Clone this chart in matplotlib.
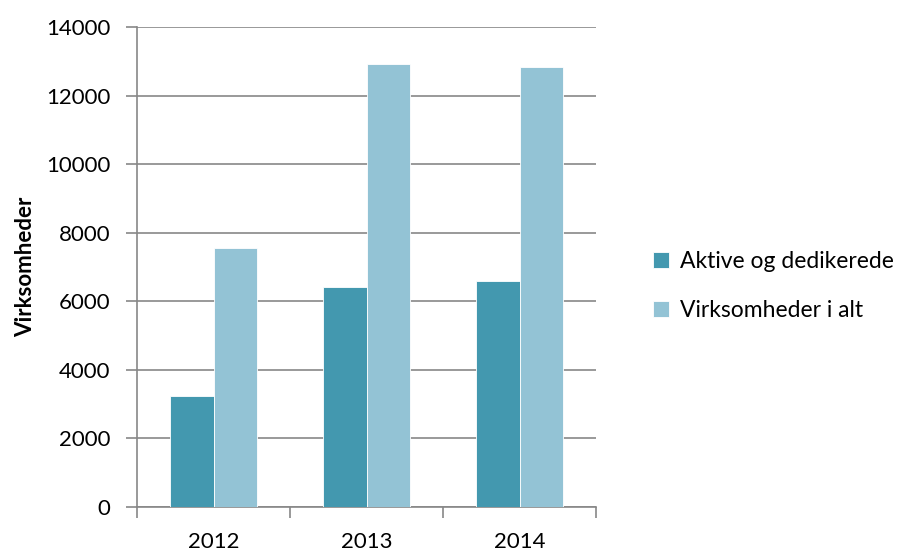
import numpy as np
import matplotlib.pyplot as plt

years = ['2012', '2013', '2014']
aktive = [3250, 6430, 6590]
i_alt = [7560, 12910, 12830]
series_names = ['Aktive og dedikerede', 'Virksomheder i alt']
yticks = [0, 2000, 4000, 6000, 8000, 10000, 12000, 14000]

plt.rcParams['font.family'] = ['Lato', 'DejaVu Sans']

fig = plt.figure(figsize=(9.06, 5.52), dpi=100)
ax = fig.add_axes([137/906, 1-507/552, 459/906, 480/552])

x = np.arange(len(years))
w = 0.285
ax.bar(x - w/2, aktive, w, color='#4398af', edgecolor='white', linewidth=0.6,
       label=series_names[0], zorder=3)
ax.bar(x + w/2, i_alt, w, color='#93c3d5', edgecolor='white', linewidth=0.6,
       label=series_names[1], zorder=3)

ax.set_xlim(-0.5, 2.5)
ax.set_ylim(0, 14000)
ax.set_yticks(yticks)
ax.set_yticklabels([str(v) for v in yticks])
ax.yaxis.grid(True, color='#878787', linewidth=1.2, zorder=0)

# year labels centred, tick marks on the category borders
ax.set_xticks(x)
ax.set_xticklabels(years)
ax.tick_params(axis='x', length=0, pad=18, labelsize=16)
ax.set_xticks(np.arange(-0.5, 3, 1), minor=True)
ax.tick_params(axis='x', which='minor', length=8, width=1.2, color='#878787')
ax.tick_params(axis='y', length=8, width=1.2, color='#878787', labelsize=16, pad=11)

for s in ['top', 'right']:
    ax.spines[s].set_visible(False)
for s in ['left', 'bottom']:
    ax.spines[s].set_color('#878787')
    ax.spines[s].set_linewidth(1.2)

ax.set_ylabel('Virksomheder', fontsize=16, fontweight='bold', labelpad=7)

ax.legend(loc='center left', bbox_to_anchor=(1.08, 0.46), frameon=False,
          fontsize=16.5, handlelength=0.7, handleheight=0.7, handletextpad=0.45,
          labelspacing=1.2)

fig.savefig('out.png', dpi=100)
